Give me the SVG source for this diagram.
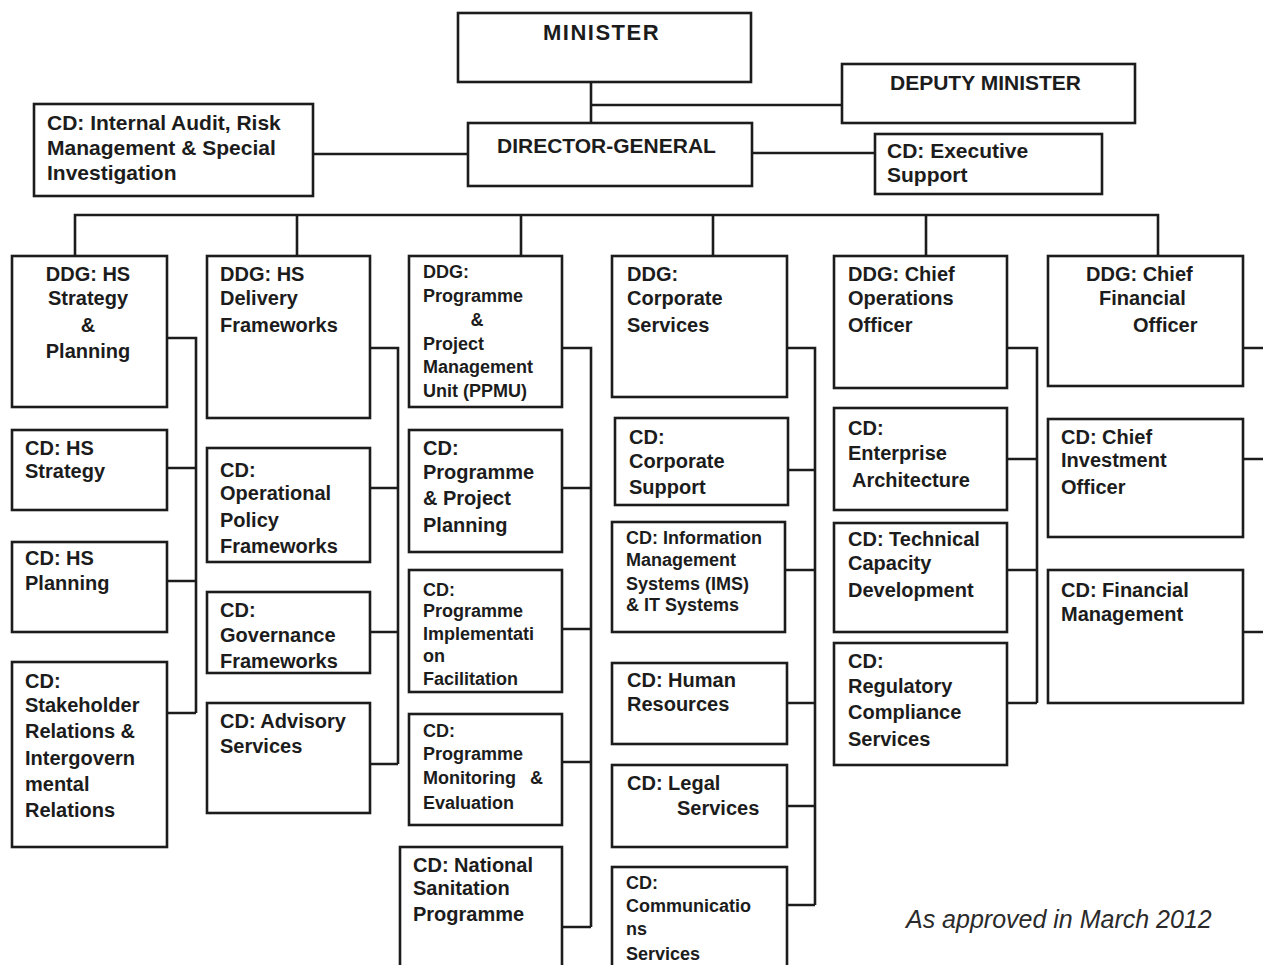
<svg xmlns="http://www.w3.org/2000/svg" width="1263" height="965" viewBox="0 0 1263 965">
<style>
.box{fill:#fff;stroke:#1c1c1c;stroke-width:2.6}
.conn{fill:none;stroke:#1c1c1c;stroke-width:2.6}
.t{font-family:"Liberation Sans",Arial,sans-serif;font-weight:bold;font-size:20px;fill:#1c1c1c}
.L{font-size:21px}
.s{font-size:18px}
.foot{font-family:"Liberation Sans",Arial,sans-serif;font-style:italic;font-size:25px;fill:#2a2a2a}
</style>
<rect width="1263" height="965" fill="#fff"/>
<g id="connectors">
<path class="conn" d="M591,82V123M591,105H855M313,154H468M752,153H875"/>
<path class="conn" d="M75,256V215H1158V256M297,215V256M521,215V256M713,215V256M926,215V256"/>
<path class="conn" d="M167,338H196V713M167,468H196M167,581H196M167,713H196"/>
<path class="conn" d="M370,348H398V764M370,488H398M370,632H398M370,764H398"/>
<path class="conn" d="M562,348H591V927M562,488H591M562,629H591M562,762H591M562,927H591"/>
<path class="conn" d="M787,348H815V905M785,470H815M785,570H815M787,703H815M787,806H815M787,905H815"/>
<path class="conn" d="M1007,348H1037V703M1007,459H1037M1007,570H1037M1007,703H1037"/>
<path class="conn" d="M1243,348H1263M1243,459H1263M1243,632H1263"/>
</g>
<g id="minister"><rect class="box" x="458" y="13" width="293" height="69"/><text class="t" x="543" y="40" style="font-size:22px;letter-spacing:1.5px">MINISTER</text></g>
<g id="deputy-minister"><rect class="box" x="842" y="64" width="293" height="59"/><text class="t L" x="890" y="90">DEPUTY MINISTER</text></g>
<g id="director-general"><rect class="box" x="468" y="123" width="284" height="63"/><text class="t L" x="497" y="153">DIRECTOR-GENERAL</text></g>
<g id="cd-internal-audit"><rect class="box" x="34" y="104" width="279" height="92"/><text class="t L"><tspan x="47" y="130">CD: Internal Audit, Risk</tspan><tspan x="47" y="155">Management &amp; Special</tspan><tspan x="47" y="180">Investigation</tspan></text></g>
<g id="cd-executive-support"><rect class="box" x="875" y="134" width="227" height="60"/><text class="t L"><tspan x="887" y="158">CD: Executive</tspan><tspan x="887" y="182">Support</tspan></text></g>

<g id="ddg-hs-strategy"><rect class="box" x="12" y="256" width="155" height="151"/><text class="t" text-anchor="middle"><tspan x="88" y="281">DDG: HS</tspan><tspan x="88" y="305">Strategy</tspan><tspan x="88" y="332">&amp;</tspan><tspan x="88" y="358">Planning</tspan></text></g>
<g id="cd-hs-strategy"><rect class="box" x="12" y="430" width="155" height="80"/><text class="t"><tspan x="25" y="455">CD: HS</tspan><tspan x="25" y="478">Strategy</tspan></text></g>
<g id="cd-hs-planning"><rect class="box" x="12" y="542" width="155" height="90"/><text class="t"><tspan x="25" y="565">CD: HS</tspan><tspan x="25" y="590">Planning</tspan></text></g>
<g id="cd-stakeholder"><rect class="box" x="12" y="662" width="155" height="185"/><text class="t"><tspan x="25" y="688">CD:</tspan><tspan x="25" y="712">Stakeholder</tspan><tspan x="25" y="738">Relations &amp;</tspan><tspan x="25" y="765">Intergovern</tspan><tspan x="25" y="791">mental</tspan><tspan x="25" y="817">Relations</tspan></text></g>

<g id="ddg-hs-delivery"><rect class="box" x="207" y="256" width="163" height="162"/><text class="t"><tspan x="220" y="281">DDG: HS</tspan><tspan x="220" y="305">Delivery</tspan><tspan x="220" y="332">Frameworks</tspan></text></g>
<g id="cd-operational-policy"><rect class="box" x="207" y="448" width="163" height="114"/><text class="t"><tspan x="220" y="477">CD:</tspan><tspan x="220" y="500">Operational</tspan><tspan x="220" y="527">Policy</tspan><tspan x="220" y="553">Frameworks</tspan></text></g>
<g id="cd-governance"><rect class="box" x="207" y="592" width="163" height="81"/><text class="t"><tspan x="220" y="617">CD:</tspan><tspan x="220" y="642">Governance</tspan><tspan x="220" y="668">Frameworks</tspan></text></g>
<g id="cd-advisory"><rect class="box" x="207" y="703" width="163" height="110"/><text class="t"><tspan x="220" y="728">CD: Advisory</tspan><tspan x="220" y="753">Services</tspan></text></g>

<g id="ddg-ppmu"><rect class="box" x="409" y="256" width="153" height="151"/><text class="t s"><tspan x="423" y="278">DDG:</tspan><tspan x="423" y="302">Programme</tspan><tspan x="477" y="326" text-anchor="middle">&amp;</tspan><tspan x="423" y="350">Project</tspan><tspan x="423" y="373">Management</tspan><tspan x="423" y="397">Unit (PPMU)</tspan></text></g>
<g id="cd-programme-planning"><rect class="box" x="409" y="430" width="153" height="122"/><text class="t"><tspan x="423" y="455">CD:</tspan><tspan x="423" y="479">Programme</tspan><tspan x="423" y="505">&amp; Project</tspan><tspan x="423" y="532">Planning</tspan></text></g>
<g id="cd-programme-implementation"><rect class="box" x="409" y="570" width="153" height="122"/><text class="t s"><tspan x="423" y="596">CD:</tspan><tspan x="423" y="617">Programme</tspan><tspan x="423" y="640">Implementati</tspan><tspan x="423" y="662">on</tspan><tspan x="423" y="685">Facilitation</tspan></text></g>
<g id="cd-programme-monitoring"><rect class="box" x="409" y="714" width="153" height="111"/><text class="t s"><tspan x="423" y="737">CD:</tspan><tspan x="423" y="760">Programme</tspan><tspan x="423" y="784">Monitoring</tspan><tspan x="530" y="784">&amp;</tspan><tspan x="423" y="809">Evaluation</tspan></text></g>
<g id="cd-national-sanitation"><rect class="box" x="400" y="847" width="162" height="125"/><text class="t"><tspan x="413" y="872">CD: National</tspan><tspan x="413" y="895">Sanitation</tspan><tspan x="413" y="921">Programme</tspan></text></g>

<g id="ddg-corporate-services"><rect class="box" x="612" y="256" width="175" height="141"/><text class="t"><tspan x="627" y="281">DDG:</tspan><tspan x="627" y="305">Corporate</tspan><tspan x="627" y="332">Services</tspan></text></g>
<g id="cd-corporate-support"><rect class="box" x="615" y="418" width="173" height="87"/><text class="t"><tspan x="629" y="444">CD:</tspan><tspan x="629" y="468">Corporate</tspan><tspan x="629" y="494">Support</tspan></text></g>
<g id="cd-ims"><rect class="box" x="612" y="522" width="173" height="110"/><text class="t s"><tspan x="626" y="544">CD: Information</tspan><tspan x="626" y="566">Management</tspan><tspan x="626" y="590">Systems (IMS)</tspan><tspan x="626" y="611">&amp; IT Systems</tspan></text></g>
<g id="cd-human-resources"><rect class="box" x="612" y="663" width="175" height="81"/><text class="t"><tspan x="627" y="687">CD: Human</tspan><tspan x="627" y="711">Resources</tspan></text></g>
<g id="cd-legal"><rect class="box" x="612" y="765" width="175" height="82"/><text class="t"><tspan x="627" y="790">CD: Legal</tspan><tspan x="677" y="815">Services</tspan></text></g>
<g id="cd-communications"><rect class="box" x="612" y="867" width="175" height="105"/><text class="t s"><tspan x="626" y="889">CD:</tspan><tspan x="626" y="912">Communicatio</tspan><tspan x="626" y="935">ns</tspan><tspan x="626" y="960">Services</tspan></text></g>

<g id="ddg-coo"><rect class="box" x="834" y="256" width="173" height="132"/><text class="t"><tspan x="848" y="281">DDG: Chief</tspan><tspan x="848" y="305">Operations</tspan><tspan x="848" y="332">Officer</tspan></text></g>
<g id="cd-enterprise-architecture"><rect class="box" x="834" y="408" width="173" height="102"/><text class="t"><tspan x="848" y="435">CD:</tspan><tspan x="848" y="460">Enterprise</tspan><tspan x="852" y="487">Architecture</tspan></text></g>
<g id="cd-technical-capacity"><rect class="box" x="834" y="523" width="173" height="109"/><text class="t"><tspan x="848" y="546">CD: Technical</tspan><tspan x="848" y="570">Capacity</tspan><tspan x="848" y="597">Development</tspan></text></g>
<g id="cd-regulatory-compliance"><rect class="box" x="834" y="643" width="173" height="122"/><text class="t"><tspan x="848" y="668">CD:</tspan><tspan x="848" y="693">Regulatory</tspan><tspan x="848" y="719">Compliance</tspan><tspan x="848" y="746">Services</tspan></text></g>

<g id="ddg-cfo"><rect class="box" x="1048" y="256" width="195" height="130"/><text class="t"><tspan x="1086" y="281">DDG: Chief</tspan><tspan x="1099" y="305">Financial</tspan><tspan x="1133" y="332">Officer</tspan></text></g>
<g id="cd-chief-investment"><rect class="box" x="1048" y="419" width="195" height="118"/><text class="t"><tspan x="1061" y="444">CD: Chief</tspan><tspan x="1061" y="467">Investment</tspan><tspan x="1061" y="494">Officer</tspan></text></g>
<g id="cd-financial-management"><rect class="box" x="1048" y="570" width="195" height="133"/><text class="t"><tspan x="1061" y="597">CD: Financial</tspan><tspan x="1061" y="621">Management</tspan></text></g>

<text class="foot" x="906" y="928">As approved in March 2012</text>
</svg>
